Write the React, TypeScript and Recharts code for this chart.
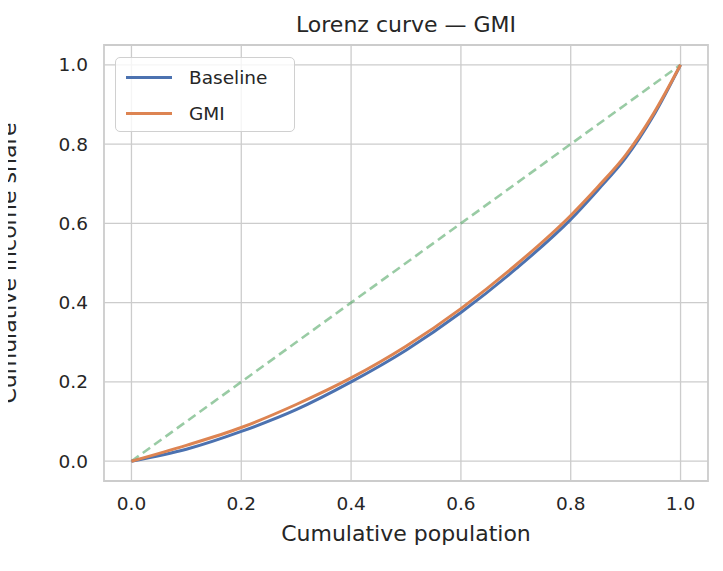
import React from "react";
import { LineChart, Line, XAxis, YAxis, CartesianGrid, ReferenceArea } from "recharts";

const population = [0, 0.1, 0.2, 0.3, 0.4, 0.5, 0.6, 0.7, 0.8, 0.85, 0.9, 0.95, 1.0];
const baseline = [0, 0.03, 0.075, 0.13, 0.2, 0.28, 0.375, 0.485, 0.61, 0.685, 0.765, 0.87, 1.0];
const gmi = [0, 0.04, 0.085, 0.143, 0.21, 0.29, 0.385, 0.495, 0.62, 0.693, 0.772, 0.875, 1.0];
const ticks = [0, 0.2, 0.4, 0.6, 0.8, 1.0];

const data = population.map((p, i) => ({ p, base: baseline[i], gmi: gmi[i], eq: p }));
const txt = "#262626";
const font = "DejaVu Sans, sans-serif";

export default function App() {
  return (
    <div style={{ position: "relative", width: 723, height: 571, margin: -8, background: "#fff", fontFamily: font }}>
      <LineChart width={723} height={571} data={data} margin={{ top: 45, right: 15, bottom: 20, left: 30 }}>
        <CartesianGrid stroke="#cccccc" horizontalValues={ticks} verticalValues={ticks} strokeWidth={1.3} />
        <XAxis dataKey="p" type="number" domain={[-0.05, 1.05]} ticks={ticks} tickFormatter={(v) => v.toFixed(1)}
          axisLine={false} tickLine={false} height={70} tick={{ fill: txt, fontSize: 18.5, fontFamily: font }} tickMargin={10}
          label={{ value: "Cumulative population", position: "insideBottom", offset: 10, fill: txt, fontSize: 22, fontFamily: font }} />
        <YAxis type="number" domain={[-0.05, 1.05]} ticks={ticks} tickFormatter={(v) => v.toFixed(1)}
          axisLine={false} tickLine={false} width={74} tick={{ fill: txt, fontSize: 18.5, fontFamily: font }} tickMargin={10}
          label={{ value: "Cumulative income share", angle: -90, position: "insideLeft", offset: -22, style: { textAnchor: "middle" }, fill: txt, fontSize: 22, fontFamily: font }} />
        <ReferenceArea x1={-0.05} x2={1.05} y1={-0.05} y2={1.05} fill="none" stroke="#cccccc" strokeWidth={1.8} ifOverflow="visible" />
        <Line dataKey="eq" type="linear" stroke="#55a868" strokeOpacity={0.6} strokeWidth={2.6} strokeDasharray="9 5" dot={false} isAnimationActive={false} />
        <Line dataKey="base" type="monotone" stroke="#4c72b0" strokeWidth={3} dot={false} isAnimationActive={false} />
        <Line dataKey="gmi" type="monotone" stroke="#dd8452" strokeWidth={3} dot={false} isAnimationActive={false} />
      </LineChart>
      <div style={{ position: "absolute", top: 12, left: 104, width: 604, textAlign: "center", fontSize: 22, color: txt }}>
        Lorenz curve — GMI
      </div>
      <div style={{ position: "absolute", left: 115, top: 57, width: 180, height: 75, border: "1.5px solid #d0d0d0", borderRadius: 5, background: "rgba(255,255,255,0.8)", boxSizing: "border-box", fontSize: 18.5, color: txt }}>
        {[["Baseline", "#4c72b0"], ["GMI", "#dd8452"]].map(([n, c], i) => (
          <div key={n} style={{ position: "absolute", left: 10, top: 6 + i * 36, display: "flex", alignItems: "center", height: 26 }}>
            <div style={{ width: 46, height: 3, background: c, marginRight: 17 }} />
            <span>{n}</span>
          </div>
        ))}
      </div>
    </div>
  );
}
